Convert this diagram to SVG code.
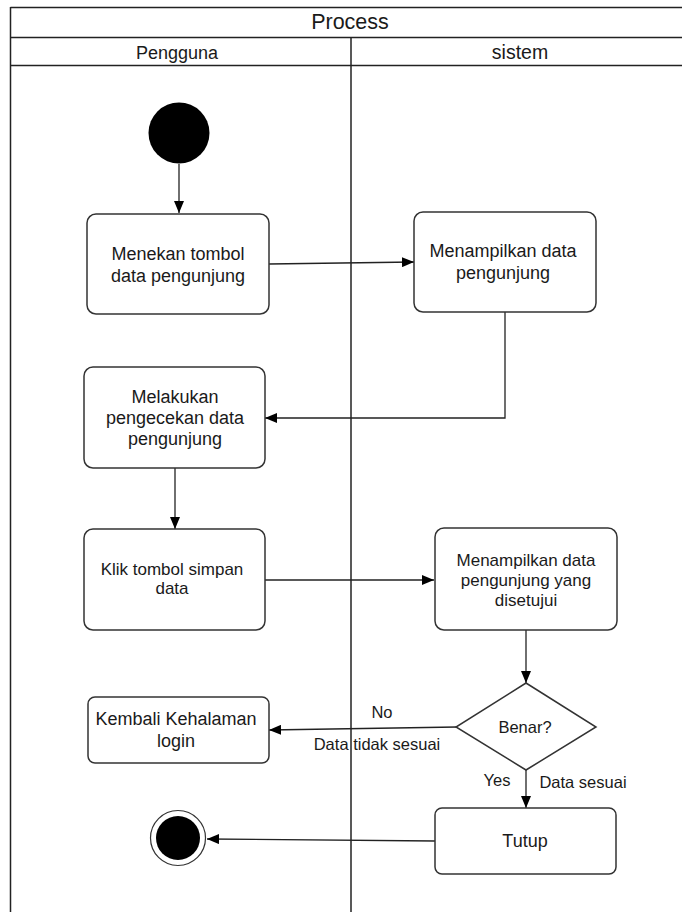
<svg xmlns="http://www.w3.org/2000/svg" width="682" height="912" viewBox="0 0 682 912">
<defs>
<style>
.frame{fill:none;stroke:#222;stroke-width:1.5}
.node{fill:#fff;stroke:#333;stroke-width:1.5}
.conn{fill:none;stroke:#222;stroke-width:1.3}
text{font-family:"Liberation Sans",Arial,sans-serif;fill:#1a1a1a;text-anchor:middle}
.t18{font-size:18px}
.t17{font-size:17px}
.t16{font-size:16.5px}
.hdr{font-size:21.5px}
</style>
<marker id="arr" viewBox="0 0 12 10" refX="12" refY="5" markerWidth="12" markerHeight="10" markerUnits="userSpaceOnUse" orient="auto">
<path d="M0,0 L12,5 L0,10 z" fill="#000"/>
</marker>
</defs>
<rect x="0" y="0" width="682" height="912" fill="#fff"/>
<g id="swimlanes">
<line class="frame" x1="10.5" y1="7.5" x2="682" y2="7.5"/>
<line class="frame" x1="10.5" y1="7" x2="10.5" y2="912"/>
<line class="frame" x1="10" y1="37.5" x2="682" y2="37.5"/>
<line class="frame" x1="10" y1="65.5" x2="682" y2="65.5"/>
<line class="frame" x1="351" y1="37.5" x2="351" y2="912"/>
<text class="hdr" x="350" y="29">Process</text>
<text class="t18" x="177" y="59">Pengguna</text>
<text class="t18" x="520" y="59" style="font-size:19.5px">sistem</text>
</g>
<g id="connectors">
<line class="conn" x1="179" y1="164" x2="179" y2="213" marker-end="url(#arr)"/>
<line class="conn" x1="269" y1="264" x2="414" y2="262" marker-end="url(#arr)"/>
<polyline class="conn" points="505,312 505,418 265,418" marker-end="url(#arr)"/>
<line class="conn" x1="175" y1="468" x2="175" y2="529" marker-end="url(#arr)"/>
<line class="conn" x1="265" y1="580" x2="434" y2="580" marker-end="url(#arr)"/>
<line class="conn" x1="526" y1="630" x2="526" y2="683" marker-end="url(#arr)"/>
<line class="conn" x1="457" y1="727" x2="269" y2="730" marker-end="url(#arr)"/>
<line class="conn" x1="526" y1="770" x2="526" y2="808" marker-end="url(#arr)"/>
<line class="conn" x1="435" y1="841" x2="207" y2="839" marker-end="url(#arr)"/>
<text class="t16" x="382" y="718">No</text>
<text class="t16" x="377" y="750">Data tidak sesuai</text>
<text class="t16" x="497" y="786">Yes</text>
<text class="t16" x="583" y="788">Data sesuai</text>
</g>
<g id="start">
<circle cx="179" cy="133" r="30.5" fill="#000"/>
</g>
<g id="n1">
<rect class="node" x="87" y="214" width="182" height="100" rx="9"/>
<text class="t18" x="178" y="260">Menekan tombol</text>
<text class="t18" x="178" y="282">data pengunjung</text>
</g>
<g id="n2">
<rect class="node" x="414" y="212" width="182" height="100" rx="9"/>
<text class="t18" x="503" y="257">Menampilkan data</text>
<text class="t18" x="503" y="279">pengunjung</text>
</g>
<g id="n3">
<rect class="node" x="84" y="367" width="181" height="101" rx="9"/>
<text class="t18" x="175" y="403">Melakukan</text>
<text class="t18" x="175" y="424">pengecekan data</text>
<text class="t18" x="175" y="445">pengunjung</text>
</g>
<g id="n4">
<rect class="node" x="84" y="529" width="181" height="101" rx="9"/>
<text class="t17" x="172" y="575">Klik tombol simpan</text>
<text class="t17" x="172" y="594">data</text>
</g>
<g id="n5">
<rect class="node" x="435" y="528" width="182" height="102" rx="9"/>
<text class="t17" x="526" y="566">Menampilkan data</text>
<text class="t17" x="526" y="586">pengunjung yang</text>
<text class="t17" x="526" y="606">disetujui</text>
</g>
<g id="decision">
<polygon class="node" points="526,683 596,727 526,770 456,727"/>
<text class="t16" x="525" y="733">Benar?</text>
</g>
<g id="n6">
<rect class="node" x="88" y="697" width="181" height="66" rx="7"/>
<text class="t18" x="176" y="725">Kembali Kehalaman</text>
<text class="t18" x="176" y="747">login</text>
</g>
<g id="n7">
<rect class="node" x="435" y="808" width="181" height="66" rx="7"/>
<text class="t18" x="525" y="847">Tutup</text>
</g>
<g id="end">
<circle cx="178" cy="838" r="27.5" fill="#fff" stroke="#333" stroke-width="1.2"/>
<circle cx="178" cy="838" r="22" fill="#000"/>
</g>
</svg>
